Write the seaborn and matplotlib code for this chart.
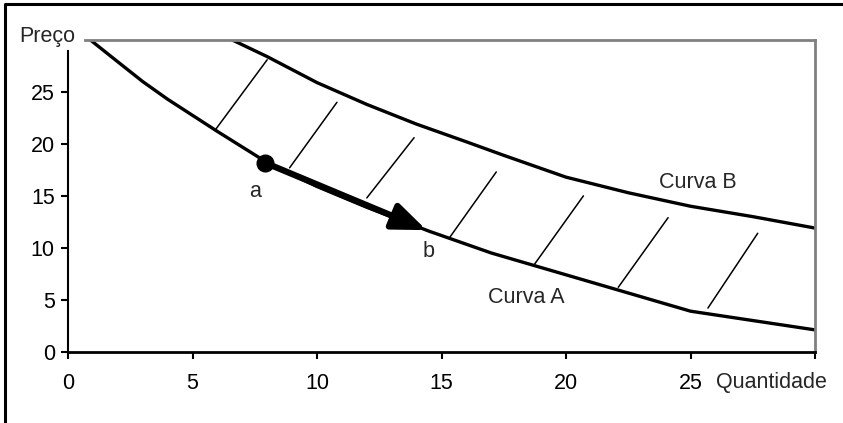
import pandas as pd
import matplotlib.pyplot as plt
import seaborn as sns
from matplotlib.lines import Line2D

# Curve values
curva_a_x = [0.9, 2, 3, 4, 6, 8, 10, 12, 14.5, 17, 19, 22, 25, 27.5, 30]
curva_a_y = [30, 27.9, 26.0, 24.3, 21.2, 18.2, 15.9, 13.9, 11.6, 9.5, 8.1, 6.0, 3.9, 3.0, 2.1]
curva_b_x = [6.6, 8, 10, 12, 14, 16, 17.5, 20, 22.5, 25, 27.5, 30]
curva_b_y = [30, 28.4, 25.9, 23.8, 21.9, 20.2, 18.9, 16.8, 15.3, 14.0, 13.0, 11.9]

# hatch segments between the curves (lower end -> upper end)
hatch_x0 = [5.9, 8.9, 12.0, 15.3, 18.7, 22.1, 25.7]
hatch_y0 = [21.3, 17.7, 14.8, 10.9, 8.3, 6.2, 4.2]
hatch_x1 = [8.0, 10.8, 13.9, 17.2, 20.7, 24.1, 27.7]
hatch_y1 = [28.1, 24.0, 20.6, 17.3, 15.0, 12.9, 11.4]

point_a = (7.9, 18.2)
point_b = (14.4, 11.7)

x_ticks = [0, 5, 10, 15, 20, 25, 30]
x_tick_labels = ["0", "5", "10", "15", "20", "25", ""]
y_ticks = [0, 5, 10, 15, 20, 25]

df_a = pd.DataFrame({"Quantidade": curva_a_x, "Preco": curva_a_y})
df_b = pd.DataFrame({"Quantidade": curva_b_x, "Preco": curva_b_y})

sns.set_style("white")
plt.rcParams["font.family"] = ["Liberation Sans", "DejaVu Sans"]
fs = 15.5

fig = plt.figure(figsize=(8.43, 4.23), dpi=100)
ax = fig.add_axes([68 / 843, 1 - 351.7 / 423, (815 - 68) / 843, (351.7 - 40) / 423])

sns.lineplot(data=df_a, x="Quantidade", y="Preco", ax=ax, color="black",
             linewidth=2.4, sort=False, estimator=None)
sns.lineplot(data=df_b, x="Quantidade", y="Preco", ax=ax, color="black",
             linewidth=2.4, sort=False, estimator=None)

for x0, y0, x1, y1 in zip(hatch_x0, hatch_y0, hatch_x1, hatch_y1):
    ax.plot([x0, x1], [y0, y1], color="black", linewidth=1.1)

# arrow a -> b
ax.annotate("", xy=point_b, xytext=point_a,
            arrowprops=dict(arrowstyle="-|>,head_length=2.0,head_width=0.8",
                            color="black", linewidth=4.5, shrinkA=0, shrinkB=0))
ax.plot(point_a[0], point_a[1], "o", color="black", markersize=12)

ax.text(7.5, 15.4, "a", fontsize=fs, ha="center", va="center")
ax.text(14.5, 9.6, "b", fontsize=fs, ha="center", va="center")
ax.text(18.4, 5.2, "Curva A", fontsize=fs, ha="center", va="center")
ax.text(25.3, 16.3, "Curva B", fontsize=fs, ha="center", va="center")

ax.set_xlim(0, 30)
ax.set_ylim(0, 30)
ax.set_xticks(x_ticks)
ax.set_xticklabels(x_tick_labels)
ax.set_yticks(y_ticks)
ax.set_xlabel("")
ax.set_ylabel("")
ax.tick_params(axis="x", direction="out", length=5, width=1.5, pad=10, labelsize=fs,
               bottom=True, colors="black")
ax.tick_params(axis="y", direction="out", length=5, width=1.5, pad=4.5, labelsize=fs,
               left=True, colors="black")

for side in ["top", "right"]:
    ax.spines[side].set_color("#808080")
    ax.spines[side].set_linewidth(2)
ax.spines["top"].set_bounds(0.7, 30)
ax.spines["left"].set_color("black")
ax.spines["left"].set_linewidth(1.5)
ax.spines["left"].set_bounds(0, 28.9)
ax.spines["bottom"].set_color("black")
ax.spines["bottom"].set_linewidth(2)

fig.text(47 / 843, 1 - 42 / 423, "Preço", fontsize=fs, ha="center", va="baseline")
fig.text(771 / 843, 1 - 382 / 423, "Quantidade", fontsize=fs, ha="center", va="center")

# outer frame (left and top edges)
fig.add_artist(Line2D([5 / 843, 5 / 843, 1.0], [0.0, 1 - 4 / 423, 1 - 4 / 423],
                      transform=fig.transFigure, color="black", linewidth=2.2))

fig.savefig("out.png", dpi=100)
